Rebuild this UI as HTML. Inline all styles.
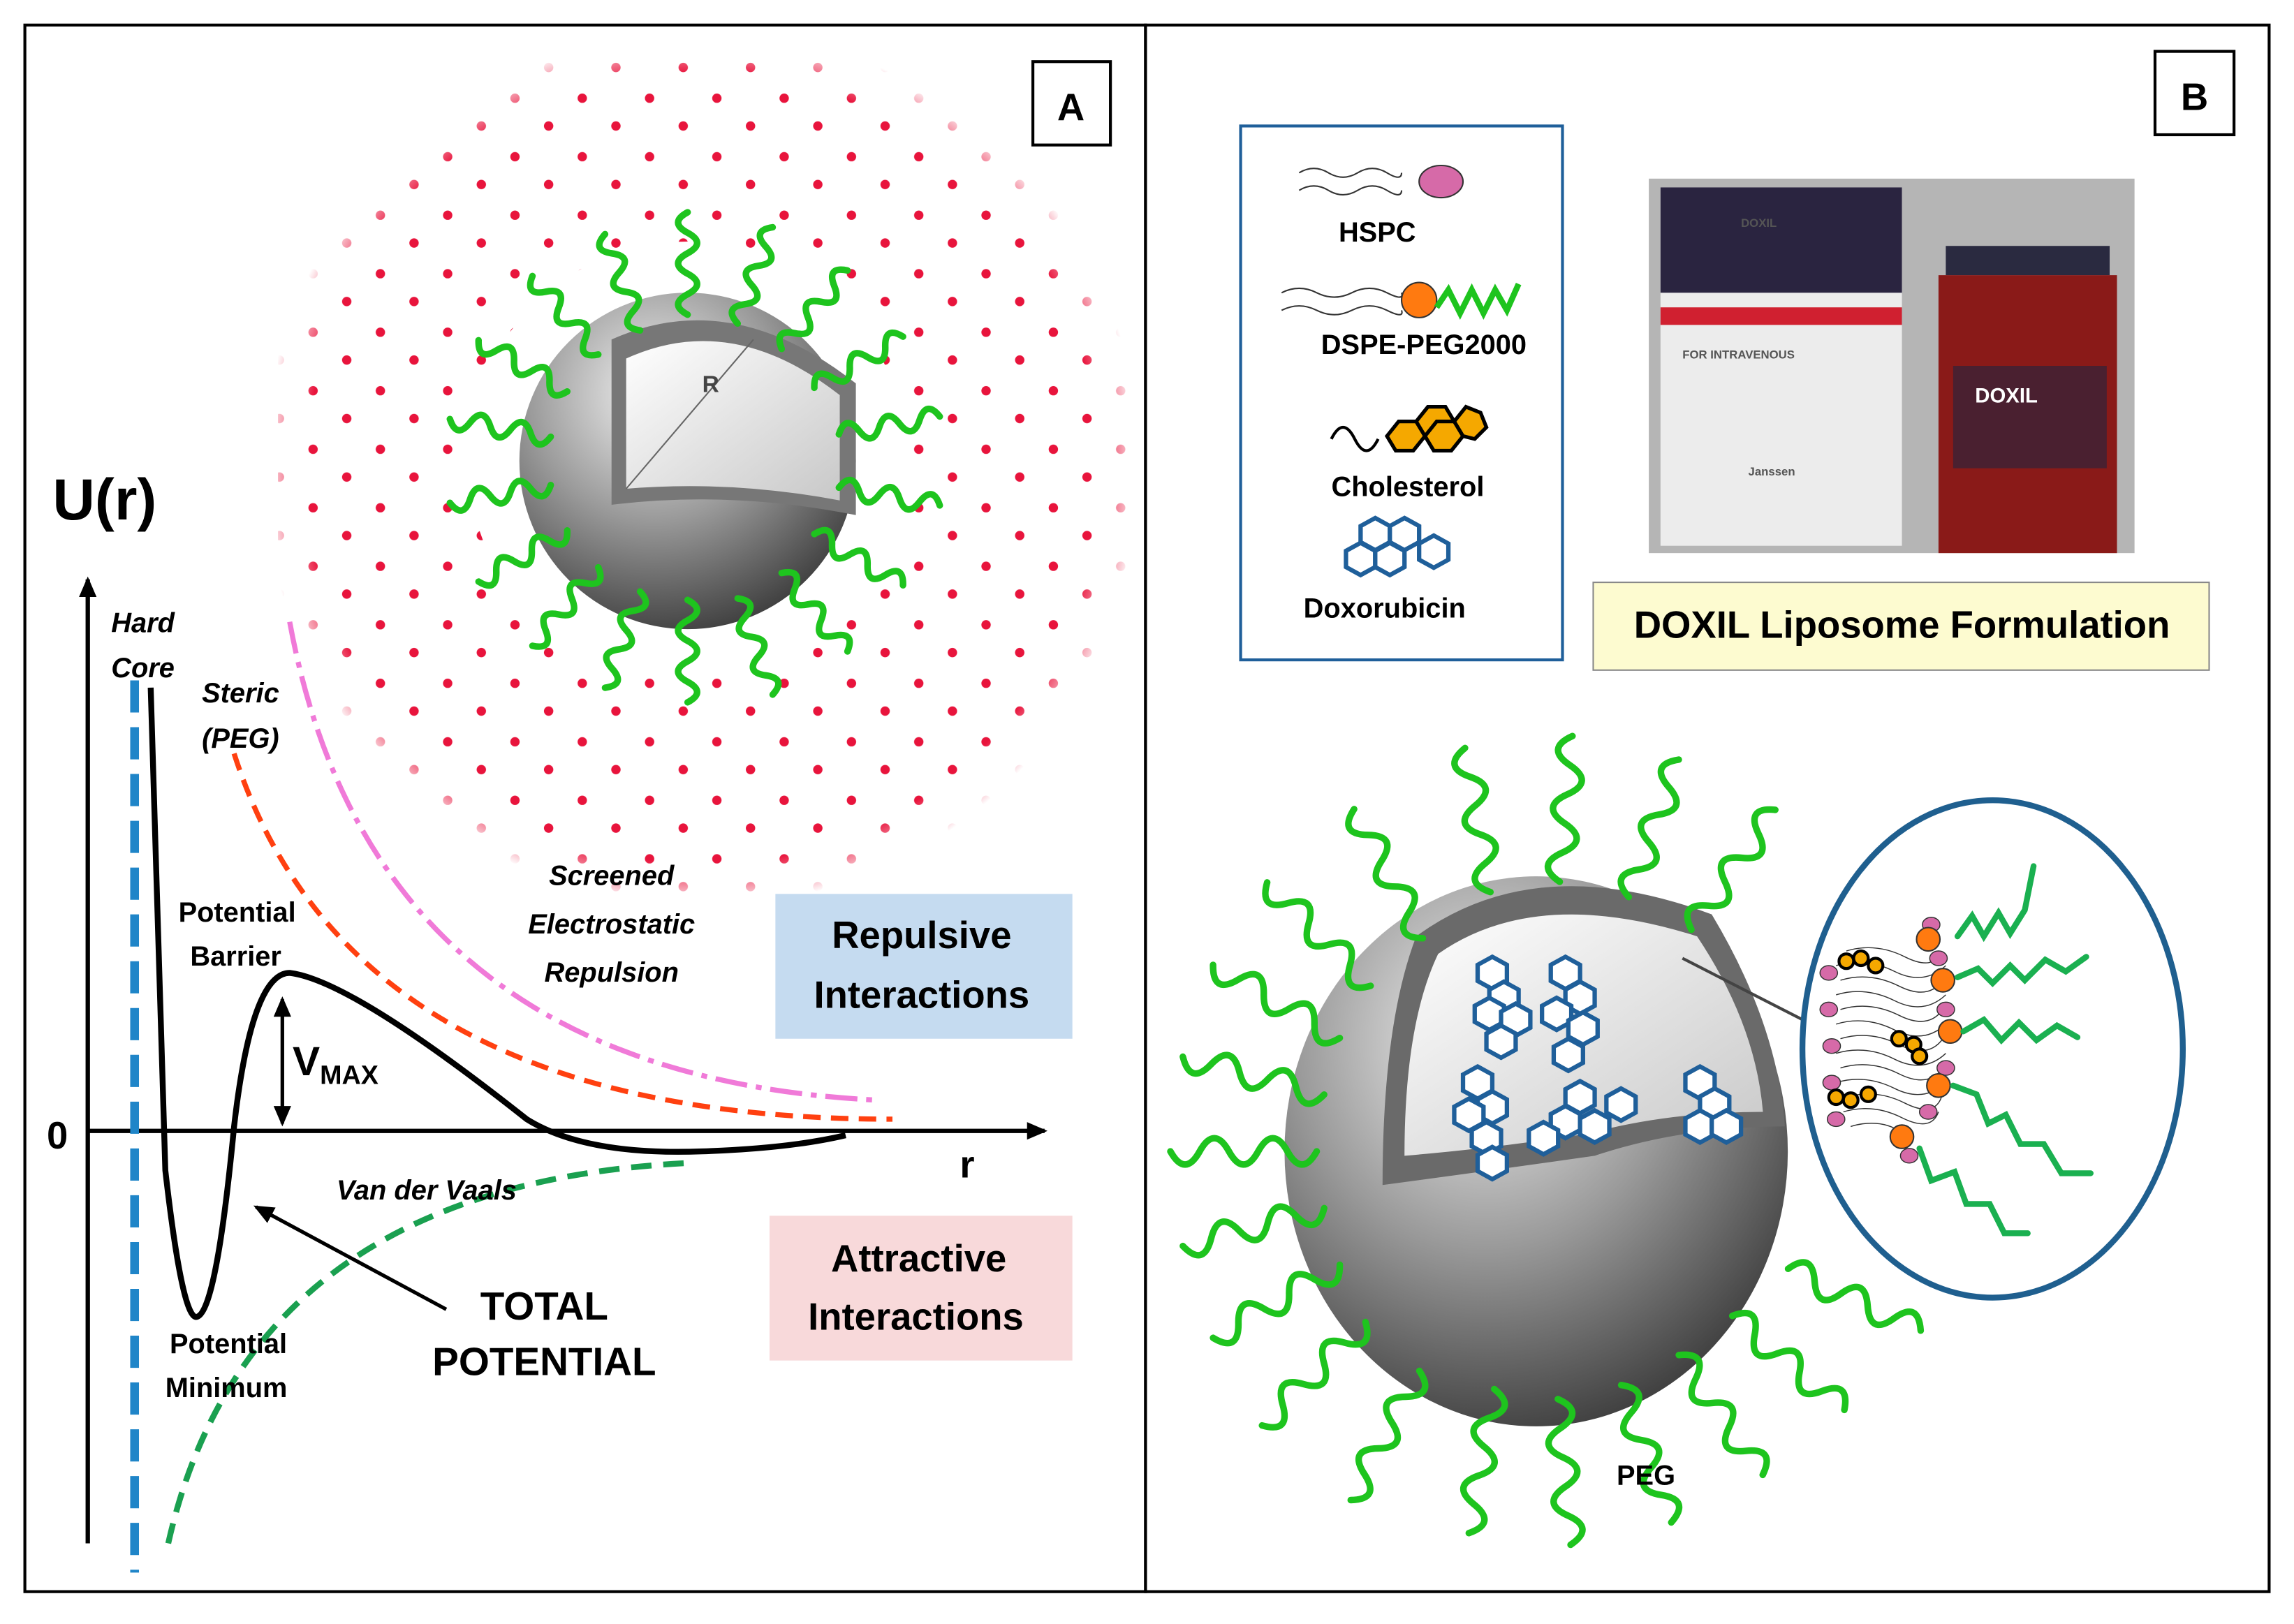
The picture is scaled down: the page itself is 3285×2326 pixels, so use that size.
<!DOCTYPE html>
<html><head><meta charset="utf-8"><style>
html,body{margin:0;padding:0;background:#fff}
svg{display:block}
text{font-family:"Liberation Sans",sans-serif;font-weight:bold}
</style></head><body>
<svg width="3285" height="2326" viewBox="0 0 1568 1110" xmlns="http://www.w3.org/2000/svg">
<defs>
<radialGradient id="sph" cx="0.4" cy="0.3" r="0.75">
<stop offset="0" stop-color="#f2f2f2"/><stop offset="0.5" stop-color="#9a9a9a"/><stop offset="1" stop-color="#3a3a3a"/></radialGradient>
<linearGradient id="inn" x1="0" y1="0" x2="1" y2="1"><stop offset="0" stop-color="#fff"/><stop offset="1" stop-color="#c8c8c8"/></linearGradient>
<pattern id="dots" width="46" height="40" patternUnits="userSpaceOnUse">
<circle cx="7" cy="6" r="3.2" fill="#e8143c"/><circle cx="30" cy="27" r="3.2" fill="#e8143c"/></pattern>
<radialGradient id="fade" cx="0.5" cy="0.5" r="0.5"><stop offset="0.55" stop-color="#fff"/><stop offset="0.9" stop-color="#fff"/><stop offset="1" stop-color="#000"/></radialGradient>
<mask id="dm"><circle cx="480" cy="320" r="300" fill="url(#fade)"/><circle cx="470" cy="315" r="150" fill="#000"/></mask>
<path id="w" d="M0,0 q7,-13 14,0 t14,0 t14,0 t14,0 t14,0" fill="none" stroke="#1ec41e" stroke-width="4.5" stroke-linecap="round"/>
<path id="w2" d="M0,0 q10,-18 20,0 t20,0 t20,0 t20,0 t20,0" fill="none" stroke="#1ec41e" stroke-width="4.5" stroke-linecap="round"/>
<marker id="ah" markerUnits="userSpaceOnUse" markerWidth="14" markerHeight="12" refX="12" refY="6" orient="auto-start-reverse"><path d="M0,0 L14,6 L0,12 z" fill="#000"/></marker>
<g id="hex"><polygon points="0,-11 10,-5.5 10,5.5 0,11 -10,5.5 -10,-5.5" fill="#fff" stroke="#1f5f9a" stroke-width="3"/></g>
</defs>
<rect x="17" y="17" width="766" height="1071" fill="none" stroke="#000" stroke-width="2"/>
<rect x="783" y="17" width="768" height="1071" fill="none" stroke="#000" stroke-width="2"/>
<rect x="706" y="42" width="53" height="57" fill="#fff" stroke="#000" stroke-width="2"/>
<text x="732" y="82" font-size="26" text-anchor="middle">A</text>
<rect x="1473" y="35" width="54" height="57" fill="#fff" stroke="#000" stroke-width="2"/>
<text x="1500" y="75" font-size="26" text-anchor="middle">B</text>

<rect x="190" y="40" width="590" height="570" fill="url(#dots)" mask="url(#dm)"/>
<circle cx="470" cy="315" r="115" fill="url(#sph)"/>
<path d="M418,232 Q500,195 585,262 L585,352 Q500,335 418,345 Z" fill="#777"/>
<path d="M428,245 Q500,212 574,270 L574,342 Q500,328 428,334 Z" fill="url(#inn)"/>
<line x1="428" y1="334" x2="515" y2="232" stroke="#666" stroke-width="1"/>
<text x="480" y="268" font-size="16" fill="#444">R</text>
<g>
<use href="#w" transform="translate(470,315) rotate(-90) translate(100,0)"/>
<use href="#w" transform="translate(470,315) rotate(-70) translate(100,0)"/>
<use href="#w" transform="translate(470,315) rotate(-50) translate(100,0)"/>
<use href="#w" transform="translate(470,315) rotate(-30) translate(100,0)"/>
<use href="#w" transform="translate(470,315) rotate(-10) translate(105,0)"/>
<use href="#w" transform="translate(470,315) rotate(10) translate(105,0)"/>
<use href="#w" transform="translate(470,315) rotate(30) translate(100,0)"/>
<use href="#w" transform="translate(470,315) rotate(50) translate(100,0)"/>
<use href="#w" transform="translate(470,315) rotate(70) translate(100,0)"/>
<use href="#w" transform="translate(470,315) rotate(90) translate(95,0)"/>
<use href="#w" transform="translate(470,315) rotate(110) translate(95,0)"/>
<use href="#w" transform="translate(470,315) rotate(130) translate(95,0)"/>
<use href="#w" transform="translate(470,315) rotate(150) translate(95,0)"/>
<use href="#w" transform="translate(470,315) rotate(170) translate(95,0)"/>
<use href="#w" transform="translate(470,315) rotate(190) translate(95,0)"/>
<use href="#w" transform="translate(470,315) rotate(210) translate(95,0)"/>
<use href="#w" transform="translate(470,315) rotate(230) translate(95,0)"/>
<use href="#w" transform="translate(470,315) rotate(250) translate(95,0)"/>
</g>

<line x1="60" y1="1055" x2="60" y2="396" stroke="#000" stroke-width="3" marker-end="url(#ah)"/>
<line x1="60" y1="773" x2="714" y2="773" stroke="#000" stroke-width="3" marker-end="url(#ah)"/>
<line x1="92" y1="465" x2="92" y2="1075" stroke="#1f85c8" stroke-width="6" stroke-dasharray="22,10"/>
<path d="M198,425 Q255,735 600,752" fill="none" stroke="#f07ad8" stroke-width="3.5" stroke-dasharray="22,6,4,6"/>
<path d="M160,515 Q240,765 610,765" fill="none" stroke="#ff4010" stroke-width="3.5" stroke-dasharray="12,7"/>
<path d="M115,1055 Q170,810 470,795" fill="none" stroke="#1aa050" stroke-width="4" stroke-dasharray="14,8"/>
<path d="M103,470 L113,800 Q125,905 135,900 Q148,895 160,770 Q172,665 198,665 Q240,670 360,765 Q400,790 480,787 Q540,785 578,776" fill="none" stroke="#000" stroke-width="4"/>
<line x1="193" y1="768" x2="193" y2="683" stroke="#000" stroke-width="2.5" marker-end="url(#ah)" marker-start="url(#ah)"/>
<line x1="305" y1="895" x2="175" y2="825" stroke="#000" stroke-width="2.5" marker-end="url(#ah)"/>
<text x="36" y="355" font-size="40">U(r)</text>
<g font-size="19" font-style="italic"><text x="76" y="432">Hard</text><text x="76" y="463">Core</text>
<text x="138" y="480">Steric</text><text x="138" y="511">(PEG)</text>
<text x="418" y="605" text-anchor="middle">Screened</text><text x="418" y="638" text-anchor="middle">Electrostatic</text><text x="418" y="671" text-anchor="middle">Repulsion</text>
<text x="230" y="820">Van der Vaals</text></g>
<g font-size="19" font-weight="normal"><text x="122" y="630">Potential</text><text x="130" y="660">Barrier</text>
<text x="116" y="925">Potential</text><text x="113" y="955">Minimum</text></g>
<text x="200" y="735" font-size="28">V<tspan font-size="18" dy="6">MAX</tspan></text>
<text x="32" y="785" font-size="26">0</text>
<text x="656" y="805" font-size="26">r</text>
<text x="372" y="902" font-size="27" text-anchor="middle">TOTAL</text>
<text x="372" y="940" font-size="27" text-anchor="middle">POTENTIAL</text>
<rect x="530" y="611" width="203" height="99" fill="#c5dbf0"/>
<text x="630" y="648" font-size="26" text-anchor="middle">Repulsive</text><text x="630" y="689" font-size="26" text-anchor="middle">Interactions</text>
<rect x="526" y="831" width="207" height="99" fill="#f8d9da"/>
<text x="628" y="869" font-size="26" text-anchor="middle">Attractive</text><text x="626" y="909" font-size="26" text-anchor="middle">Interactions</text>

<rect x="848" y="86" width="220" height="365" fill="#fff" stroke="#1f5f9a" stroke-width="2"/>
<path d="M888,118 q10,-6 20,0 t20,0 t20,0 t10,0 M888,130 q10,-6 20,0 t20,0 t20,0 t10,0" fill="none" stroke="#333" stroke-width="1"/>
<ellipse cx="985" cy="124" rx="15" ry="11" fill="#d66aa8" stroke="#333"/>
<text x="915" y="165" font-size="19">HSPC</text>
<path d="M876,200 q12,-6 24,0 t24,0 t24,0 t10,0 M876,212 q12,-6 24,0 t24,0 t24,0 t10,0" fill="none" stroke="#333" stroke-width="1"/>
<circle cx="970" cy="205" r="12" fill="#ff7a10" stroke="#333"/>
<path d="M982,210 l8,-12 l8,16 l8,-16 l8,16 l8,-16 l8,14 l8,-18" fill="none" stroke="#1ec41e" stroke-width="4"/>
<text x="903" y="242" font-size="19">DSPE-PEG2000</text>
<path d="M910,300 q8,-16 16,0 t16,0" fill="none" stroke="#000" stroke-width="2"/>
<g fill="#f5a800" stroke="#000" stroke-width="2.5">
<polygon points="948,298 956,288 968,288 974,298 966,308 954,308"/>
<polygon points="968,288 976,278 988,278 994,288 986,298 974,298"/>
<polygon points="974,298 982,288 994,288 1000,298 992,308 980,308"/>
<polygon points="994,288 1002,278 1012,282 1016,292 1008,300 1000,298"/></g>
<text x="910" y="339" font-size="19">Cholesterol</text>
<g transform="translate(930,382)"><use href="#hex"/><use href="#hex" x="20" y="0"/><use href="#hex" x="10" y="-17"/><use href="#hex" x="30" y="-17"/><use href="#hex" x="50" y="-5"/></g>
<text x="891" y="422" font-size="19">Doxorubicin</text>
<rect x="1127" y="122" width="332" height="256" fill="#b5b5b5"/>
<rect x="1135" y="128" width="165" height="245" fill="#ececec"/>
<rect x="1135" y="128" width="165" height="72" fill="#2a2440"/>
<rect x="1135" y="210" width="165" height="12" fill="#d02030"/>
<g fill="#555" font-size="8" font-weight="normal"><text x="1190" y="155">DOXIL</text><text x="1150" y="245">FOR INTRAVENOUS</text><text x="1195" y="325">Janssen</text></g>
<rect x="1330" y="168" width="112" height="20" fill="#2a2a40"/>
<rect x="1325" y="188" width="122" height="190" fill="#8a1a18"/>
<rect x="1335" y="250" width="105" height="70" fill="#4a2030"/>
<text x="1350" y="275" font-size="14" fill="#fff">DOXIL</text>
<rect x="1089" y="398" width="421" height="60" fill="#fdfbd0" stroke="#888" stroke-width="1"/>
<text x="1300" y="436" font-size="26" text-anchor="middle">DOXIL  Liposome Formulation</text>

<ellipse cx="1050" cy="787" rx="172" ry="188" fill="url(#sph)"/>
<path d="M968,640 Q1050,580 1170,625 Q1215,700 1220,770 Q1150,770 1090,790 Q1020,800 945,810 Q945,700 968,640 Z" fill="#6a6a6a"/>
<path d="M983,652 Q1050,605 1160,640 Q1200,700 1205,760 Q1140,760 1085,775 Q1020,785 960,790 Q960,700 983,652 Z" fill="url(#inn)"/>
<line x1="1150" y1="655" x2="1238" y2="700" stroke="#444" stroke-width="2"/>
<g transform="translate(1020,665)"><use href="#hex"/><use href="#hex" x="8" y="17"/><use href="#hex" x="-2" y="28"/><use href="#hex" x="16" y="32"/><use href="#hex" x="6" y="47"/></g>
<g transform="translate(1070,665)"><use href="#hex"/><use href="#hex" x="10" y="17"/><use href="#hex" x="-6" y="28"/><use href="#hex" x="12" y="38"/><use href="#hex" x="2" y="56"/></g>
<g transform="translate(1010,740)"><use href="#hex"/><use href="#hex" x="10" y="17"/><use href="#hex" x="-6" y="22"/><use href="#hex" x="6" y="38"/><use href="#hex" x="10" y="55"/></g>
<g transform="translate(1080,750)"><use href="#hex"/><use href="#hex" x="-10" y="17"/><use href="#hex" x="10" y="20"/><use href="#hex" x="-25" y="28"/><use href="#hex" x="28" y="5"/></g>
<g transform="translate(1162,740)"><use href="#hex"/><use href="#hex" x="10" y="15"/><use href="#hex" x="0" y="30"/><use href="#hex" x="18" y="30"/></g>
<g>
<use href="#w2" transform="translate(1050,787) rotate(-100) translate(180,0)"/>
<use href="#w2" transform="translate(1050,787) rotate(-85) translate(185,0)"/>
<use href="#w2" transform="translate(1050,787) rotate(-70) translate(185,0)"/>
<use href="#w2" transform="translate(1050,787) rotate(-55) translate(185,0)"/>
<use href="#w2" transform="translate(1050,787) rotate(-118) translate(165,0)"/>
<use href="#w2" transform="translate(1050,787) rotate(-135) translate(160,0)"/>
<use href="#w2" transform="translate(1050,787) rotate(-150) translate(155,0)"/>
<use href="#w2" transform="translate(1050,787) rotate(-165) translate(150,0)"/>
<use href="#w2" transform="translate(1050,787) rotate(180) translate(150,0)"/>
<use href="#w2" transform="translate(1050,787) rotate(165) translate(150,0)"/>
<use href="#w2" transform="translate(1050,787) rotate(150) translate(155,0)"/>
<use href="#w2" transform="translate(1050,787) rotate(135) translate(165,0)"/>
<use href="#w2" transform="translate(1050,787) rotate(118) translate(170,0)"/>
<use href="#w2" transform="translate(1050,787) rotate(100) translate(165,0)"/>
<use href="#w2" transform="translate(1050,787) rotate(85) translate(170,0)"/>
<use href="#w2" transform="translate(1050,787) rotate(70) translate(170,0)"/>
<use href="#w2" transform="translate(1050,787) rotate(55) translate(170,0)"/>
<use href="#w2" transform="translate(1050,787) rotate(40) translate(175,0)"/>
<use href="#w2" transform="translate(1050,787) rotate(25) translate(190,0)"/>
</g>
<text x="1105" y="1015" font-size="19">PEG</text>
<ellipse cx="1362" cy="717" rx="130" ry="170" fill="#fff" stroke="#1f5f8f" stroke-width="4"/>
<g stroke="#333" stroke-width="0.7" fill="none">
<path d="M1255,660 q20,-6 40,4 t35,-4 M1255,680 q20,-6 40,4 t35,-4 M1255,700 q20,-6 40,4 t35,-4 M1255,720 q20,-6 40,4 t35,-4 M1255,740 q20,-6 40,4 t35,-4 M1260,760 q20,-6 40,4 t25,-4 M1262,650 q20,-6 40,4 t25,-4 M1258,670 q20,-6 40,4 t30,-4 M1258,690 q20,-6 40,4 t30,-4 M1258,710 q20,-6 40,4 t30,-4 M1258,730 q20,-6 40,4 t30,-4 M1262,750 q20,-6 40,4 t25,-4 M1265,770 q20,-6 35,4"/></g>
<g fill="#d66aa8" stroke="#333" stroke-width="0.7">
<ellipse cx="1250" cy="665" rx="6" ry="5"/><ellipse cx="1250" cy="690" rx="6" ry="5"/><ellipse cx="1252" cy="715" rx="6" ry="5"/><ellipse cx="1252" cy="740" rx="6" ry="5"/><ellipse cx="1255" cy="765" rx="6" ry="5"/>
<ellipse cx="1320" cy="632" rx="6" ry="5"/><ellipse cx="1325" cy="655" rx="6" ry="5"/><ellipse cx="1330" cy="690" rx="6" ry="5"/><ellipse cx="1330" cy="730" rx="6" ry="5"/><ellipse cx="1318" cy="760" rx="6" ry="5"/><ellipse cx="1305" cy="790" rx="6" ry="5"/></g>
<g fill="#ff7a10" stroke="#333"><circle cx="1318" cy="642" r="8"/><circle cx="1328" cy="670" r="8"/><circle cx="1333" cy="705" r="8"/><circle cx="1325" cy="742" r="8"/><circle cx="1300" cy="777" r="8"/></g>
<g fill="#f5a800" stroke="#000" stroke-width="2"><circle cx="1262" cy="657" r="5"/><circle cx="1272" cy="655" r="5"/><circle cx="1282" cy="660" r="5"/><circle cx="1298" cy="710" r="5"/><circle cx="1308" cy="714" r="5"/><circle cx="1312" cy="722" r="5"/><circle cx="1255" cy="750" r="5"/><circle cx="1265" cy="752" r="5"/><circle cx="1277" cy="748" r="5"/></g>
<g fill="none" stroke="#1ab050" stroke-width="4" stroke-linecap="round">
<path d="M1338,640 l10,-14 l8,14 l10,-16 l8,14 l10,-16 l6,-30"/>
<path d="M1338,668 l14,-6 l10,10 l12,-12 l10,10 l14,-14 l14,8 l14,-10"/>
<path d="M1342,705 l14,-8 l12,14 l12,-12 l12,12 l14,-10 l14,8"/>
<path d="M1335,742 l16,6 l8,20 l12,-6 l10,20 l16,0 l12,20 l20,0"/>
<path d="M1312,785 l8,22 l16,-6 l8,22 l16,0 l10,20 l16,0"/>
</g>
</svg>
</body></html>
